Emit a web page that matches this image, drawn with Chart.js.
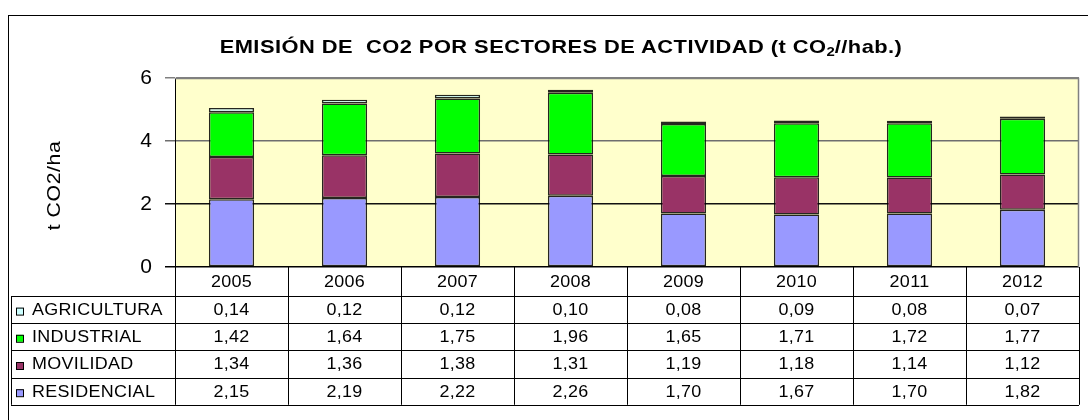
<!DOCTYPE html>
<html>
<head>
<meta charset="utf-8">
<script src="https://cdn.jsdelivr.net/npm/chart.js@4"></script>
<style>
  html, body { margin: 0; padding: 0; background: #fff; overflow: hidden; }
  #wrap { position: relative; width: 1088px; height: 420px; }
  #title {
    position: absolute; left: 34px; top: 36px; width: 1054px; text-align: center;
    font: bold 19px "Liberation Sans", Arial, sans-serif; color: #000; letter-spacing: 0.4px;
    transform: scaleX(1.15); transform-origin: 527px 0;
  }
  #title sub { font-size: 13px; vertical-align: -3px; line-height: 0; letter-spacing: 0; }
</style>
</head>
<body>
<div id="wrap">
  <canvas id="chart" width="1088" height="420"></canvas>
  <div id="title">EMISIÓN DE&nbsp; CO2 POR SECTORES DE ACTIVIDAD (t CO<sub>2</sub>//hab.)</div>
</div>
<script>
const years = ["2005", "2006", "2007", "2008", "2009", "2010", "2011", "2012"];
const residencial = [2.15, 2.19, 2.22, 2.26, 1.70, 1.67, 1.70, 1.82];
const movilidad = [1.34, 1.36, 1.38, 1.31, 1.19, 1.18, 1.14, 1.12];
const industrial = [1.42, 1.64, 1.75, 1.96, 1.65, 1.71, 1.72, 1.77];
const agricultura = [0.14, 0.12, 0.12, 0.10, 0.08, 0.09, 0.08, 0.07];
const yTicks = [0, 2, 4, 6];
const yTitle = "t CO2/ha";

const FONT = '"Liberation Sans", Arial, sans-serif';

// stack from bottom to top; table lists them top to bottom
const series = [
  { label: "RESIDENCIAL", data: residencial, color: "#9999FF" },
  { label: "MOVILIDAD", data: movilidad, color: "#993366" },
  { label: "INDUSTRIAL", data: industrial, color: "#00FF00" },
  { label: "AGRICULTURA", data: agricultura, color: "#CCFFFF" }
];

function fmt(v) {
  return v.toFixed(2).replace(".", ",");
}

// the original text is a little wider than Arial, so stretch it sideways
function wideText(ctx, text, x, y, align, sx) {
  ctx.save();
  ctx.translate(x, y);
  ctx.scale(sx, 1);
  ctx.textAlign = align;
  ctx.fillText(text, 0, 0);
  ctx.restore();
}

const backdrop = {
  id: "backdrop",
  beforeDraw(chart) {
    const { ctx, chartArea: a } = chart;
    ctx.save();
    ctx.fillStyle = "#fff";
    ctx.fillRect(0, 0, chart.width, chart.height);
    ctx.strokeStyle = "#000";
    ctx.lineWidth = 1;
    ctx.strokeRect(8.5, 15.5, 2000, 2000);
    ctx.fillStyle = "#FFFFCC";
    ctx.fillRect(a.left, a.top, a.right - a.left, a.bottom - a.top);
    ctx.restore();
  },
  afterDatasetsDraw(chart) {
    const { ctx, chartArea: a } = chart;
    ctx.save();
    ctx.strokeStyle = "#808080";
    ctx.lineWidth = 1.5;
    ctx.beginPath();
    ctx.moveTo(a.left, a.top + 0.5);
    ctx.lineTo(a.right - 0.5, a.top + 0.5);
    ctx.lineTo(a.right - 0.5, a.bottom);
    ctx.stroke();

    // y axis title
    ctx.translate(55, (a.top + a.bottom) / 2 + 13);
    ctx.rotate(-Math.PI / 2);
    ctx.fillStyle = "#000";
    ctx.font = "18px " + FONT;
    ctx.letterSpacing = "0.5px";
    ctx.textBaseline = "middle";
    wideText(ctx, yTitle, 0, 0, "center", 1.18);
    ctx.restore();
  }
};

const dataTable = {
  id: "dataTable",
  afterDraw(chart) {
    const { ctx, chartArea: a } = chart;
    const x = chart.scales.x;
    const colW = (a.right - a.left) / years.length;
    const tableLeft = 11;
    const headTop = a.bottom;
    const rowH = 27.2;
    const headH = 29;
    const rows = series.slice().reverse();
    const bottom = headTop + headH + rowH * rows.length;

    ctx.save();
    ctx.strokeStyle = "#000";
    ctx.lineWidth = 1;
    ctx.beginPath();
    // vertical lines between year columns
    for (let i = 0; i <= years.length; i++) {
      const px = Math.round(a.left + colW * i) + 0.5;
      ctx.moveTo(px, headTop);
      ctx.lineTo(px, bottom);
    }
    ctx.moveTo(tableLeft + 0.5, headTop + headH);
    ctx.lineTo(tableLeft + 0.5, bottom);
    // horizontal lines
    for (let r = 0; r <= rows.length; r++) {
      const py = Math.round(headTop + headH + rowH * r) + 0.5;
      ctx.moveTo(tableLeft, py);
      ctx.lineTo(a.right, py);
    }
    ctx.stroke();

    ctx.fillStyle = "#000";
    ctx.font = "16px " + FONT;
    ctx.letterSpacing = "0.3px";
    ctx.textBaseline = "middle";
    years.forEach((yr, i) => {
      wideText(ctx, yr, x.getPixelForValue(i), headTop + headH / 2 + 1, "center", 1.12);
    });
    rows.forEach((s, r) => {
      const cy = headTop + headH + rowH * r + rowH / 2 + 1;
      s.data.forEach((v, i) => wideText(ctx, fmt(v), x.getPixelForValue(i), cy, "center", 1.12));
      ctx.fillStyle = s.color;
      ctx.fillRect(16, cy - 3, 7, 7);
      ctx.strokeRect(16.5, cy - 2.5, 7, 7);
      ctx.fillStyle = "#000";
      wideText(ctx, s.label, 32, cy, "left", 1.12);
    });
    ctx.restore();
  }
};

new Chart(document.getElementById("chart"), {
  type: "bar",
  data: {
    labels: years,
    datasets: series.map(s => ({
      label: s.label,
      data: s.data,
      backgroundColor: s.color,
      borderColor: "rgba(0,0,0,0.85)",
      borderWidth: 1.5,
      borderSkipped: false,
      barPercentage: 0.4,
      categoryPercentage: 1
    }))
  },
  options: {
    responsive: false,
    animation: false,
    layout: { padding: { left: 0, right: 9, top: 78, bottom: 153 } },
    plugins: {
      legend: { display: false },
      tooltip: { enabled: false },
      title: { display: false }
    },
    scales: {
      x: {
        stacked: true,
        display: false
      },
      y: {
        stacked: true,
        min: 0,
        max: 6,
        afterFit(scale) { scale.width = 175; },
        afterBuildTicks(scale) { scale.ticks = yTicks.map(v => ({ value: v })); },
        ticks: {
          color: "#000",
          padding: 13,
          font: { family: FONT, size: 21 }
        },
        grid: {
          drawTicks: true,
          tickLength: 10,
          lineWidth: 1.5,
          color: ctx => {
            const v = ctx.tick ? ctx.tick.value : 0;
            if (v === 0) return "#000";
            if (v === 2) return "#111";
            if (v === 4) return "#6e6e6e";
            return "#808080";
          }
        },
        border: { display: true, color: "#000", width: 1 }
      }
    }
  },
  plugins: [backdrop, dataTable]
});
</script>
</body>
</html>
